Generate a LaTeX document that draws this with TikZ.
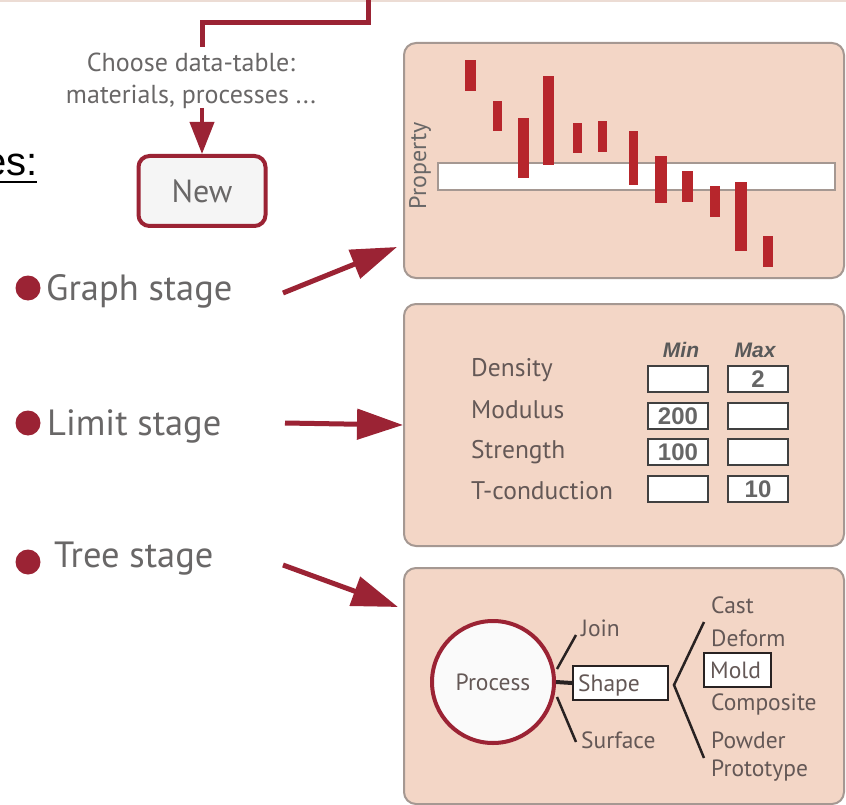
\documentclass[tikz,border=0pt]{standalone}
\usepackage{fontspec}
\setmainfont{PT Sans}
\newfontfamily\arialfont{Liberation Sans}
\usetikzlibrary{arrows.meta}

\definecolor{wine}{RGB}{155,35,52}
\definecolor{barred}{RGB}{183,38,44}
\definecolor{peach}{RGB}{243,214,198}
\definecolor{panelrim}{RGB}{165,152,146}
\definecolor{inkgray}{RGB}{105,103,103}
\definecolor{labelgray}{RGB}{100,88,86}
\definecolor{treeink}{RGB}{40,34,34}
\definecolor{topstrip}{RGB}{236,220,212}

\tikzset{
  wineline/.style={draw=wine, line width=5pt},
  stagearrow/.style={draw=wine, line width=5pt, -{Triangle[length=46pt,width=30pt]}},
  stagedot/.style={circle, fill=wine, inner sep=0pt, minimum size=25pt},
  stagetext/.style={text=inkgray, font=\fontsize{36.5}{40}\selectfont, inner sep=0pt, anchor=base west},
  panel/.style={draw=panelrim, line width=2pt, fill=peach, rounded corners=12pt,
                anchor=north west, inner sep=0pt},
  bar/.style={fill=barred},
  limitlabel/.style={text=labelgray, font=\fontsize{25.5}{28}\selectfont, anchor=west, inner sep=0pt},
  colhead/.style={text=black!65, font=\arialfont\bfseries\itshape\fontsize{21}{23}\selectfont},
  valbox/.style={draw=black!75, line width=2pt, fill=white, minimum width=60pt,
                 minimum height=26pt, inner sep=0pt,
                 font=\arialfont\bfseries\fontsize{24}{25}\selectfont, text=black!60},
  treetext/.style={text=labelgray, font=\fontsize{23.5}{26}\selectfont, anchor=west, inner sep=0pt},
  treeline/.style={draw=treeink, line width=2.5pt},
  treebox/.style={draw=treeink, line width=2pt, fill=white, inner sep=0pt, anchor=west},
}

\begin{document}
\begin{tikzpicture}[x=1pt,y=-1pt]
\useasboundingbox (0,0) rectangle (846,805);
\fill[white] (0,0) rectangle (846,805);

% edge of the panel above
\draw[topstrip, line width=2pt] (0,1) -- (846,1);

% cut-off heading
\node[anchor=base east, inner sep=0pt, font=\arialfont\fontsize{40}{44}\selectfont] (heading) at (38,176) {es:};
\draw[line width=2pt] (0,182) -- (37,182);

% feed line from above into the data-table choice
\coordinate (feedtop) at (368,-2);
\coordinate (feedknee) at (368,23);
\coordinate (feedknee2) at (202,23);
\coordinate (feedend) at (202,47);
\draw[wineline] (feedtop) -- (feedknee) -- (feedknee2) -- (feedend);

\node[text=inkgray, font=\fontsize{26}{32}\selectfont, align=center, inner sep=0pt] (choose) at (191,81)
  {Choose data-table:\\materials, processes ...};

\node[draw=wine, line width=4pt, rounded corners=11pt, fill=black!4, minimum width=127pt,
      minimum height=70pt, text=inkgray, font=\fontsize{32}{34}\selectfont] (new) at (202,191) {New};
\draw[draw=wine, line width=4pt, -{Triangle[length=32pt,width=24pt]}] (202,108) -- (new.north);

% stage bullets
\node[stagedot] (gdot) at (28,288) {};
\node[stagetext] (gtxt) at (46,300) {Graph stage};
\node[stagedot] (ldot) at (28,423) {};
\node[stagetext] (ltxt) at (47,435) {Limit stage};
\node[stagedot] (tdot) at (28,562) {};
\node[stagetext] (ttxt) at (54,567) {Tree stage};

% ---------- graph panel ----------
\node[panel, minimum width=440pt, minimum height=235pt] (graphpanel) at (403,42) {};
\draw[panelrim, fill=white, line width=1.5pt] (438,163) rectangle (835,190);
\node[rotate=90, text=inkgray, font=\fontsize{24}{26}\selectfont, inner sep=0pt] (prop) at (420,166) {Property};
\fill[bar] (465,60) rectangle (476,91);
\fill[bar] (493,101) rectangle (502,131);
\fill[bar] (518,118) rectangle (529,178);
\fill[bar] (543,76) rectangle (554,165);
\fill[bar] (573,123) rectangle (582,153);
\fill[bar] (598,121) rectangle (607,152);
\fill[bar] (629,131) rectangle (638,185);
\fill[bar] (655,156) rectangle (667,203);
\fill[bar] (682,171) rectangle (693,202);
\fill[bar] (710,186) rectangle (720,217);
\fill[bar] (735,182) rectangle (747,251);
\fill[bar] (763,236) rectangle (773,267);

% ---------- limit panel ----------
\node[panel, minimum width=440pt, minimum height=242pt] (limitpanel) at (403,303) {};
\node[colhead] (minhead) at (681,350) {Min};
\node[colhead] (maxhead) at (755,350) {Max};
\node[limitlabel] (dens) at (471,370) {Density};
\node[limitlabel] (modu) at (471,410) {Modulus};
\node[limitlabel] (stre) at (471,452) {Strength};
\node[limitlabel] (tcon) at (471,491) {T-conduction};
\node[valbox] (densmin) at (678,379) {};
\node[valbox] (densmax) at (758,379) {2};
\node[valbox] (modumin) at (678,416) {200};
\node[valbox] (modumax) at (758,416) {};
\node[valbox] (stremin) at (678,452) {100};
\node[valbox] (stremax) at (758,452) {};
\node[valbox] (tconmin) at (678,489) {};
\node[valbox] (tconmax) at (758,489) {10};

% ---------- tree panel ----------
\node[panel, minimum width=440pt, minimum height=236pt] (treepanel) at (403,567) {};
\node[circle, draw=wine, line width=4pt, fill=white!98!black, minimum size=122pt, inner sep=0pt,
      text=labelgray, font=\fontsize{23.5}{26}\selectfont] (proc) at (493,682) {Process};
\node[treebox, minimum width=95pt, minimum height=34pt] (shape) at (572,683) {};
\node[treetext] (shapetxt) at (578,685) {Shape};
\node[treetext] (join) at (581,628) {Join};
\node[treetext] (surf) at (581,740) {Surface};
\coordinate (joinfoot) at (557,669);
\coordinate (jointop) at (576,635);
\coordinate (surffoot) at (557,697);
\coordinate (surfbot) at (576,742);
\draw[treeline] (joinfoot) -- (jointop);
\draw[treeline] (surffoot) -- (surfbot);
\draw[draw=treeink, line width=4pt] (proc.east) -- (shape.west);

\coordinate (brtop) at (704,622);
\coordinate (brtip) at (674,685);
\coordinate (brbot) at (704,758);
\draw[treeline, line join=miter] (brtop) -- (brtip) -- (brbot);

\node[treebox, minimum width=67pt, minimum height=34pt] (mold) at (703,670) {};
\node[treetext] (moldtxt) at (710,670) {Mold};
\node[treetext] (cast) at (711,605) {Cast};
\node[treetext] (deform) at (711,638) {Deform};
\node[treetext] (compo) at (711,704) {Composite};
\node[treetext] (powder) at (711,740) {Powder};
\node[treetext] (proto) at (711,771) {Prototype};

% stage arrows into the panels
\coordinate (garrow) at (283,293);
\coordinate (larrow) at (285,423);
\coordinate (tarrow) at (283,565);
\draw[stagearrow] (garrow) -- (397,247);
\draw[stagearrow] (larrow) -- (limitpanel.west);
\draw[stagearrow] (tarrow) -- (398,607);
\end{tikzpicture}
\end{document}
